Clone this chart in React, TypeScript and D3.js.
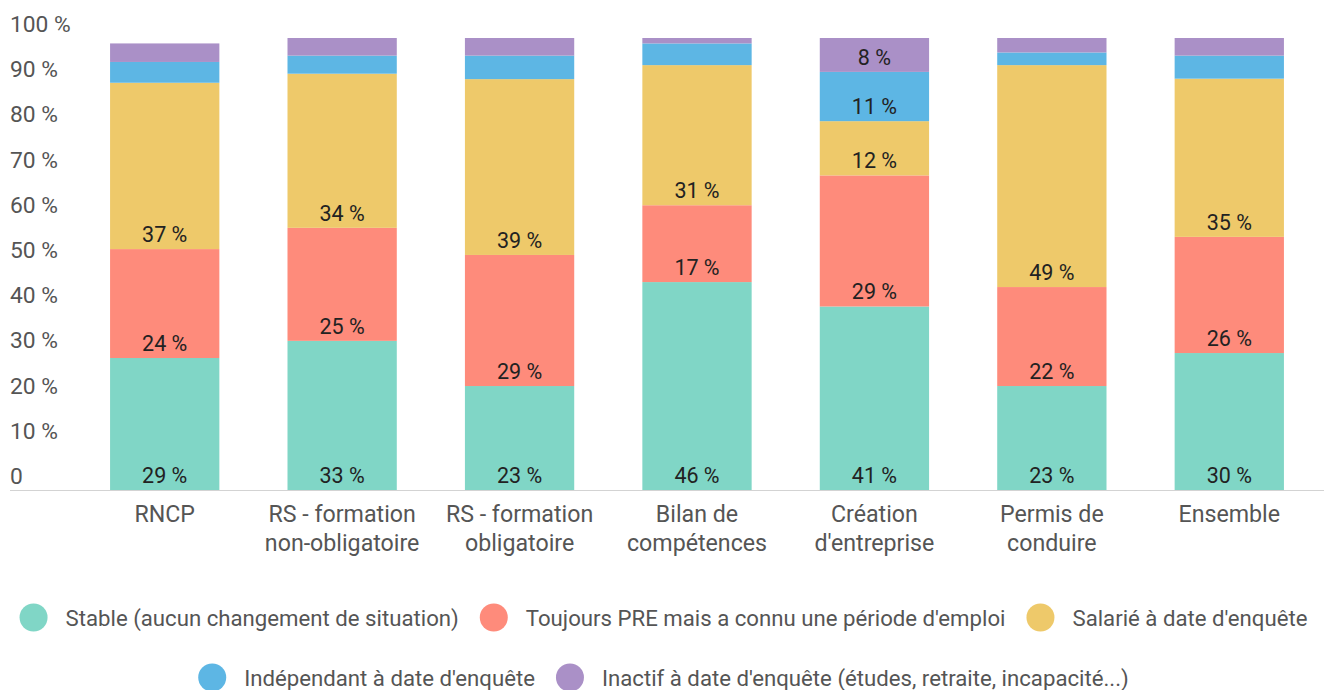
import React, { useEffect, useRef } from "react";
import * as d3 from "d3";

const categories: string[][] = [
  ["RNCP"],
  ["RS - formation", "non-obligatoire"],
  ["RS - formation", "obligatoire"],
  ["Bilan de", "compétences"],
  ["Création", "d'entreprise"],
  ["Permis de", "conduire"],
  ["Ensemble"],
];

const seriesNames = [
  "Stable (aucun changement de situation)",
  "Toujours PRE mais a connu une période d'emploi",
  "Salarié à date d'enquête",
  "Indépendant à date d'enquête",
  "Inactif à date d'enquête (études, retraite, incapacité...)",
];

const seriesColors = ["#80d6c6", "#fe8b7b", "#eec96a", "#5db6e4", "#aa90c7"];

const stable = [29.2, 33.0, 23.0, 46.0, 40.6, 23.0, 30.3];
const toujoursPRE = [24.1, 25.0, 29.0, 17.0, 29.0, 21.9, 25.7];
const salarie = [36.8, 34.1, 38.9, 31.0, 12.0, 49.1, 35.0];
const independant = [4.6, 4.0, 5.2, 4.8, 10.9, 2.8, 5.1];
const inactif = [4.1, 3.9, 3.9, 1.2, 7.5, 3.2, 3.9];

const yTicks = [0, 10, 20, 30, 40, 50, 60, 70, 80, 90, 100];

const W = 1327;
const H = 690;

export default function App() {
  const ref = useRef<SVGSVGElement | null>(null);

  useEffect(() => {
    const svg = d3.select(ref.current);
    svg.selectAll("*").remove();
    const font = "Roboto, 'Noto Sans', sans-serif";

    const series = [stable, toujoursPRE, salarie, independant, inactif];
    const keys = categories.map((_, i) => String(i));
    const x = d3.scaleBand<string>().domain(keys).range([76, 1318]).paddingInner(0.384).paddingOuter(0.192);
    const y = d3.scaleLinear().domain([0, 100]).range([490, 38]);

    // y-axis labels
    svg
      .append("g")
      .selectAll("text")
      .data(yTicks)
      .join("text")
      .attr("x", 10)
      .attr("y", (d) => y(d) - 6)
      .attr("font-family", font)
      .attr("font-size", 22.8)
      .attr("fill", "#555")
      .text((d) => (d === 0 ? "0" : `${d} %`));

    // bars
    const gBars = svg.append("g");
    const labels: { x: number; y: number; t: string }[] = [];
    categories.forEach((_, ci) => {
      let cum = 0;
      series.forEach((s, si) => {
        const v = s[ci];
        const y0 = cum;
        const y1 = cum + v;
        cum = y1;
        gBars
          .append("rect")
          .attr("x", x(String(ci))!)
          .attr("width", x.bandwidth())
          .attr("y", y(y1))
          .attr("height", y(y0) - y(y1))
          .attr("fill", seriesColors[si]);
        if (v >= 7) {
          labels.push({ x: x(String(ci))! + x.bandwidth() / 2, y: y(y0) - 7, t: `${Math.round(v)} %` });
        }
      });
    });

    svg
      .append("g")
      .selectAll("text")
      .data(labels)
      .join("text")
      .attr("x", (d) => d.x)
      .attr("y", (d) => d.y)
      .attr("text-anchor", "middle")
      .attr("font-family", font)
      .attr("font-size", 21.5)
      .attr("fill", "#222")
      .text((d) => d.t);

    // axis line
    svg
      .append("line")
      .attr("x1", 10)
      .attr("x2", 1324)
      .attr("y1", 490.5)
      .attr("y2", 490.5)
      .attr("stroke", "#d3d3d3")
      .attr("stroke-width", 1);

    // category labels
    const gCat = svg.append("g");
    categories.forEach((lines, ci) => {
      const t = gCat
        .append("text")
        .attr("text-anchor", "middle")
        .attr("font-family", font)
        .attr("font-size", 23.2)
        .attr("fill", "#555");
      lines.forEach((ln, li) => {
        t.append("tspan")
          .attr("x", x(String(ci))! + x.bandwidth() / 2)
          .attr("y", 522 + li * 29)
          .text(ln);
      });
    });

    // legend
    const gLeg = svg.append("g");
    const items = seriesNames.map((name, i) => {
      const t = gLeg
        .append("text")
        .attr("font-family", font)
        .attr("font-size", 22.2)
        .attr("fill", "#555")
        .text(name);
      const w = (t.node() as SVGTextElement).getComputedTextLength();
      return { name, i, t, w: 46 + w };
    });
    const maxW = 1310;
    const rows: (typeof items)[] = [];
    let cur: typeof items = [];
    let curW = 0;
    items.forEach((it) => {
      const add = (cur.length ? 21 : 0) + it.w;
      if (cur.length && curW + add > maxW) {
        rows.push(cur);
        cur = [it];
        curW = it.w;
      } else {
        cur.push(it);
        curW += add;
      }
    });
    if (cur.length) rows.push(cur);
    rows.forEach((row, ri) => {
      const total = row.reduce((a, it) => a + it.w, 0) + 21 * (row.length - 1);
      let px = W / 2 - total / 2;
      const cy = 617.5 + ri * 60;
      row.forEach((it) => {
        gLeg
          .append("circle")
          .attr("cx", px + 14)
          .attr("cy", cy)
          .attr("r", 14)
          .attr("fill", seriesColors[it.i]);
        it.t.attr("x", px + 46).attr("y", cy + 8);
        px += it.w + 21;
      });
    });
  }, []);

  return (
    <svg
      ref={ref}
      width={W}
      height={H}
      style={{ position: "absolute", left: 0, top: 0, background: "#fff" }}
    />
  );
}
